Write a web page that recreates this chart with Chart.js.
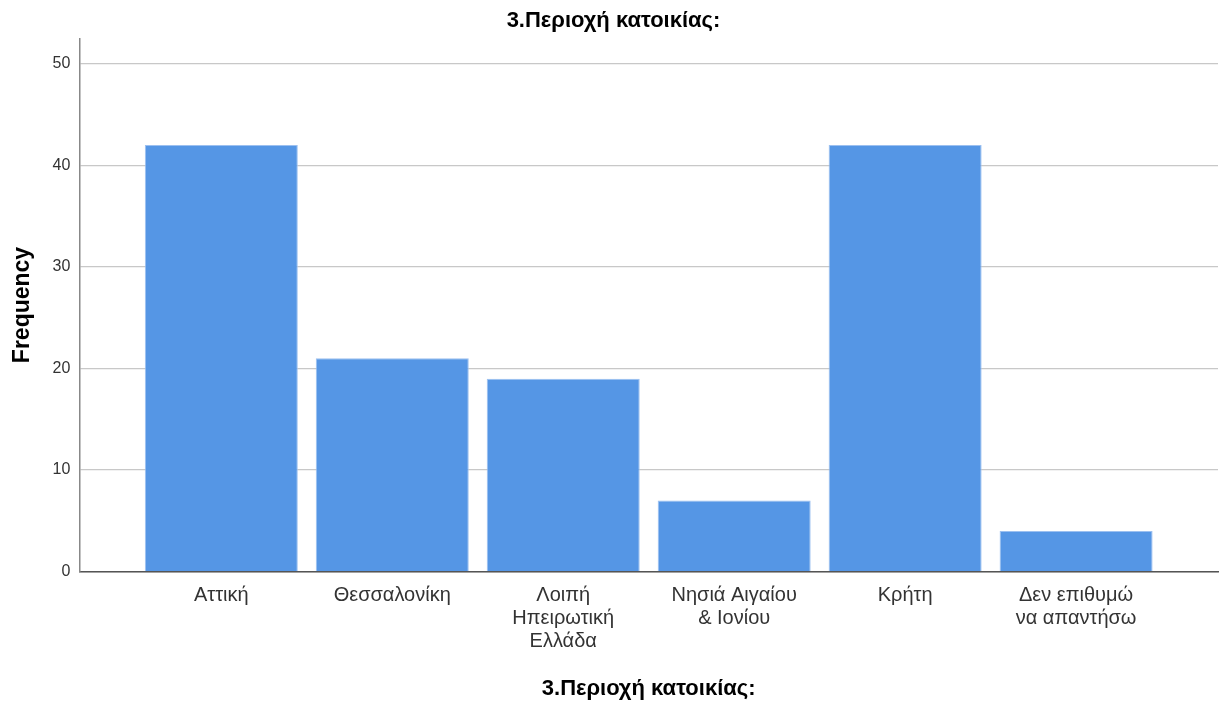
<!DOCTYPE html>
<html>
<head>
<meta charset="utf-8">
<script src="https://cdn.jsdelivr.net/npm/chart.js@4/dist/chart.umd.min.js"></script>
<style>
  html, body { margin: 0; padding: 0; background: #fff; }
  #wrap { width: 1224px; height: 704px; }
</style>
</head>
<body>
<div id="wrap"><canvas id="myChart" width="1224" height="704"></canvas></div>
<script>
const categories = [
  ['Αττική'],
  ['Θεσσαλονίκη'],
  ['Λοιπή', 'Ηπειρωτική', 'Ελλάδα'],
  ['Νησιά Αιγαίου', '& Ιονίου'],
  ['Κρήτη'],
  ['Δεν επιθυμώ', 'να απαντήσω']
];
const frequency = [42, 21, 19, 7, 42, 4];
const yTicks = [0, 10, 20, 30, 40, 50];
const chartTitle = '3.Περιοχή κατοικίας:';

const font = 'Liberation Sans, Arial, sans-serif';

// bars sit on a linear x scale so the axis can run past the outer bars
const points = frequency.map((v, i) => ({ x: i, y: v }));

const ctx = document.getElementById('myChart').getContext('2d');
const myChart = new Chart(ctx, {
  type: 'bar',
  data: {
    datasets: [{
      data: points,
      backgroundColor: '#5596e5',
      borderColor: '#9cc0f0',
      borderWidth: 1,
      barPercentage: 0.895,
      categoryPercentage: 1
    }]
  },
  options: {
    responsive: false,
    animation: false,
    layout: { padding: { left: 9, right: 6, top: 0, bottom: 2 } },
    plugins: {
      legend: { display: false },
      tooltip: { enabled: false },
      title: {
        display: true,
        text: chartTitle,
        color: '#000',
        font: { family: font, size: 22, weight: 'bold' },
        padding: { top: 8, bottom: 4 }
      }
    },
    scales: {
      x: {
        type: 'linear',
        offset: false,
        min: -0.83,
        max: 5.83,
        afterBuildTicks: (scale) => {
          scale.ticks = categories.map((c, i) => ({ value: i }));
        },
        grid: { display: false },
        border: { display: true, color: '#555', width: 1.5 },
        ticks: {
          autoSkip: false,
          maxRotation: 0,
          padding: 4,
          color: '#333',
          font: { family: font, size: 20, lineHeight: 1.15 },
          callback: (value) => categories[value]
        },
        title: {
          display: true,
          text: chartTitle,
          color: '#000',
          font: { family: font, size: 22, weight: 'bold' },
          padding: { top: 19, bottom: 0 }
        }
      },
      y: {
        min: 0,
        max: 52.5,
        afterBuildTicks: (scale) => {
          scale.ticks = yTicks.map(v => ({ value: v }));
        },
        grid: { color: '#c8c8c8', lineWidth: 1.2, drawTicks: false },
        border: { display: true, color: '#888', width: 1.5 },
        ticks: {
          padding: 9,
          color: '#333',
          font: { family: font, size: 16 }
        },
        title: {
          display: true,
          text: 'Frequency',
          color: '#000',
          font: { family: font, size: 23, weight: 'bold' },
          padding: { top: 0, bottom: 7 }
        }
      }
    }
  }
});
</script>
</body>
</html>
